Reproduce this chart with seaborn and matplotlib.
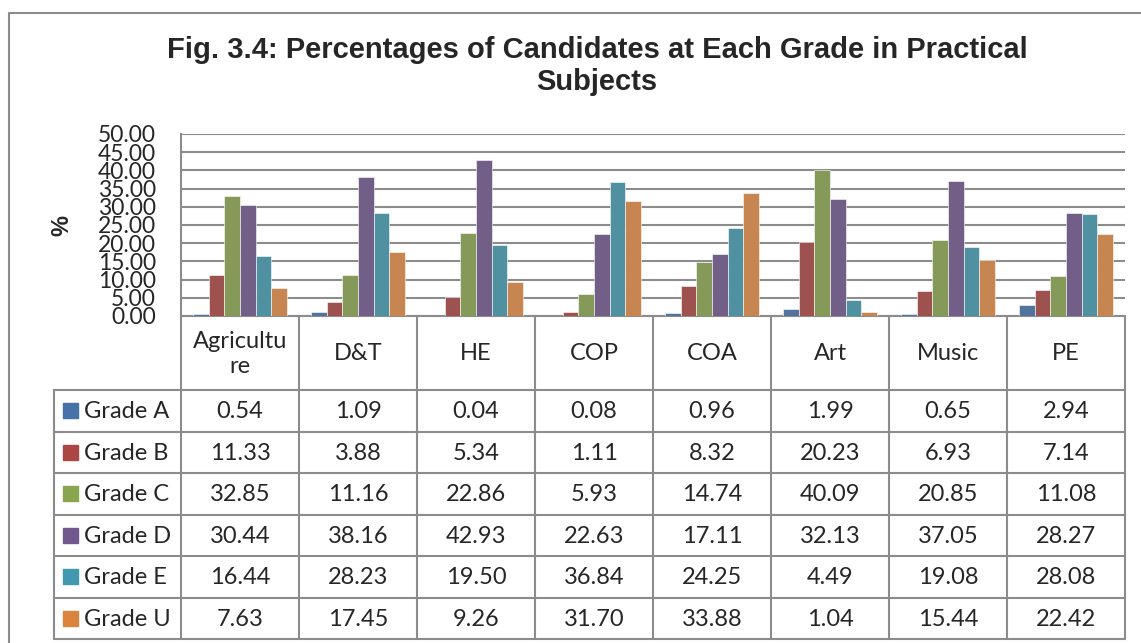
import pandas as pd
import seaborn as sns
import matplotlib.pyplot as plt

# ------------------------------------------------------------
# data
# ------------------------------------------------------------
subjects = ["Agriculture", "D&T", "HE", "COP", "COA", "Art", "Music", "PE"]
subject_labels = ["Agricultu\nre", "D&T", "HE", "COP", "COA", "Art", "Music", "PE"]
grades = ["Grade A", "Grade B", "Grade C", "Grade D", "Grade E", "Grade U"]

grade_a = [0.54, 1.09, 0.04, 0.08, 0.96, 1.99, 0.65, 2.94]
grade_b = [11.33, 3.88, 5.34, 1.11, 8.32, 20.23, 6.93, 7.14]
grade_c = [32.85, 11.16, 22.86, 5.93, 14.74, 40.09, 20.85, 11.08]
grade_d = [30.44, 38.16, 42.93, 22.63, 17.11, 32.13, 37.05, 28.27]
grade_e = [16.44, 28.23, 19.50, 36.84, 24.25, 4.49, 19.08, 28.08]
grade_u = [7.63, 17.45, 9.26, 31.70, 33.88, 1.04, 15.44, 22.42]

colors = ["#4672A8", "#AA4643", "#89A54E", "#71588F", "#4198AF", "#DB843D"]

series = [grade_a, grade_b, grade_c, grade_d, grade_e, grade_u]
rows = []
for g, vals in zip(grades, series):
    for s, v in zip(subjects, vals):
        rows.append({"subject": s, "grade": g, "pct": v})
df = pd.DataFrame(rows)

# ------------------------------------------------------------
# figure
# ------------------------------------------------------------
sns.set_style("white")
plt.rcParams["font.family"] = ["Lato", "DejaVu Sans"]

W, H = 1141, 643
fig = plt.figure(figsize=(W / 100, H / 100), dpi=100)

# background axes in pixel coordinates, for frame + table
bg = fig.add_axes([0, 0, 1, 1])
bg.set_xlim(0, W)
bg.set_ylim(H, 0)
bg.axis("off")

grey = "#8c8c8c"

# outer frame of the chart
bg.plot([9, 9, W + 5], [H + 5, 13, 13], color=grey, lw=1.5)

# title
bg.text(597, 66, "Fig. 3.4: Percentages of Candidates at Each Grade in Practical\nSubjects",
        ha="center", va="center", fontsize=21, fontweight="bold",
        family="Liberation Sans", linespacing=1.2)

# bars
left, right, top, bottom = 181, 1125, 134, 316
ax = fig.add_axes([left / W, 1 - bottom / H, (right - left) / W, (bottom - top) / H])
sns.barplot(data=df, x="subject", y="pct", hue="grade", palette=colors,
            width=0.8, order=subjects, hue_order=grades, legend=False,
            edgecolor="white", linewidth=0.4, ax=ax, zorder=3)
ax.set_xlim(-0.5, len(subjects) - 0.5)
ax.set_ylim(0, 50)
ax.set_yticks(range(0, 51, 5))
ax.set_yticklabels([f"{t:.2f}" for t in range(0, 51, 5)], fontsize=16.5)
ax.tick_params(axis="y", length=0, pad=18)
ax.set_xticks([])
ax.set_xlabel("")
ax.set_ylabel("")
ax.yaxis.grid(True, color=grey, lw=1.5, zorder=0)
for side in ["top", "right", "bottom"]:
    ax.spines[side].set_visible(False)
ax.spines["left"].set_color(grey)
ax.spines["left"].set_linewidth(1.5)
ax.set_facecolor("none")

bg.text(62, 225, "%", rotation=90, ha="center", va="center",
        fontsize=17, fontweight="bold", family="Liberation Sans")

# data table
col_w = (right - left) / len(subjects)
head_bot = 390
row_h = (639 - head_bot) / len(grades)
tab_left = 54
tab_bot = 639

# horizontal lines
bg.plot([left, right], [bottom, bottom], color=grey, lw=1.5)
for i in range(len(grades) + 1):
    y = head_bot + i * row_h
    bg.plot([tab_left, right], [y, y], color=grey, lw=1.5)
# vertical lines
for j in range(len(subjects) + 1):
    x = left + j * col_w
    bg.plot([x, x], [bottom, tab_bot], color=grey, lw=1.5)
bg.plot([tab_left, tab_left], [head_bot, tab_bot], color=grey, lw=1.5)

# header labels
for j, lab in enumerate(subject_labels):
    bg.text(left + (j + 0.5) * col_w, (bottom + head_bot) / 2 + 1, lab,
            ha="center", va="center", fontsize=17, linespacing=1.25)

# row labels + values
for i, (g, vals) in enumerate(zip(grades, series)):
    yc = head_bot + (i + 0.5) * row_h
    bg.add_patch(plt.Rectangle((63, yc - 7.5), 15, 15, color=colors[i]))
    bg.text(84, yc + 1, g, ha="left", va="center", fontsize=17)
    for j, v in enumerate(vals):
        bg.text(left + (j + 0.5) * col_w, yc + 1, f"{v:.2f}",
                ha="center", va="center", fontsize=17)

fig.savefig("out.png", dpi=100)
